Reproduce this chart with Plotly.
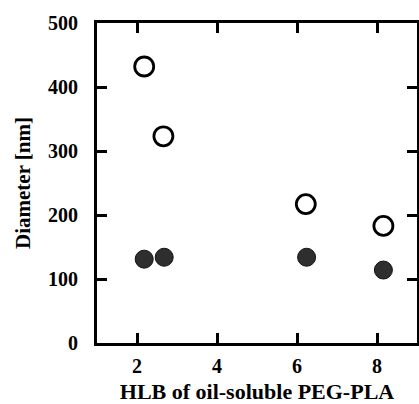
import plotly.graph_objects as go

# Data
hlb_open = [2.18, 2.66, 6.22, 8.16]
diam_open = [432, 323, 217, 183]
hlb_filled = [2.18, 2.68, 6.24, 8.16]
diam_filled = [131, 134, 134, 114]

x_ticks = [2, 4, 6, 8]
y_ticks = [0, 100, 200, 300, 400, 500]

font_family = "Liberation Serif, Times New Roman, serif"

fig = go.Figure()
fig.add_trace(go.Scatter(
    x=hlb_open, y=diam_open, mode="markers",
    marker=dict(symbol="circle-open", size=19, color="black",
                line=dict(width=2.8, color="black")),
    showlegend=False))
fig.add_trace(go.Scatter(
    x=hlb_filled, y=diam_filled, mode="markers",
    marker=dict(symbol="circle", size=18, color="#2e2e2e",
                line=dict(width=1, color="#111111")),
    showlegend=False))

fig.update_layout(
    width=419, height=404,
    margin=dict(l=97, r=2, t=23, b=61, autoexpand=False),
    paper_bgcolor="white", plot_bgcolor="white",
    font=dict(family=font_family, color="black"),
)
fig.update_xaxes(
    range=[1, 9], tickvals=x_ticks, ticktext=[str(v) for v in x_ticks],
    showline=True, linewidth=3, linecolor="black", mirror="ticks",
    ticks="inside", ticklen=10, tickwidth=2.5, tickcolor="black",
    showgrid=False, zeroline=False, automargin=False, ticklabelstandoff=3,
    tickfont=dict(size=20, family=font_family, weight="bold"),
    title=dict(text="<b>HLB of oil-soluble PEG-PLA</b>",
               font=dict(size=22, family=font_family), standoff=13),
)
fig.update_yaxes(
    range=[0, 500], tickvals=y_ticks, ticktext=[str(v) for v in y_ticks],
    showline=True, linewidth=3, linecolor="black", mirror="ticks",
    ticks="inside", ticklen=10, tickwidth=2.5, tickcolor="black",
    showgrid=False, zeroline=False, automargin=False, ticklabelstandoff=12,
    tickfont=dict(size=20, family=font_family, weight="bold"),
    title=dict(text="<b>Diameter [nm]</b>",
               font=dict(size=21, family=font_family), standoff=12),
)

fig.write_html("out.html", config={"displayModeBar": False},
               post_script="document.body.style.margin='0';")
